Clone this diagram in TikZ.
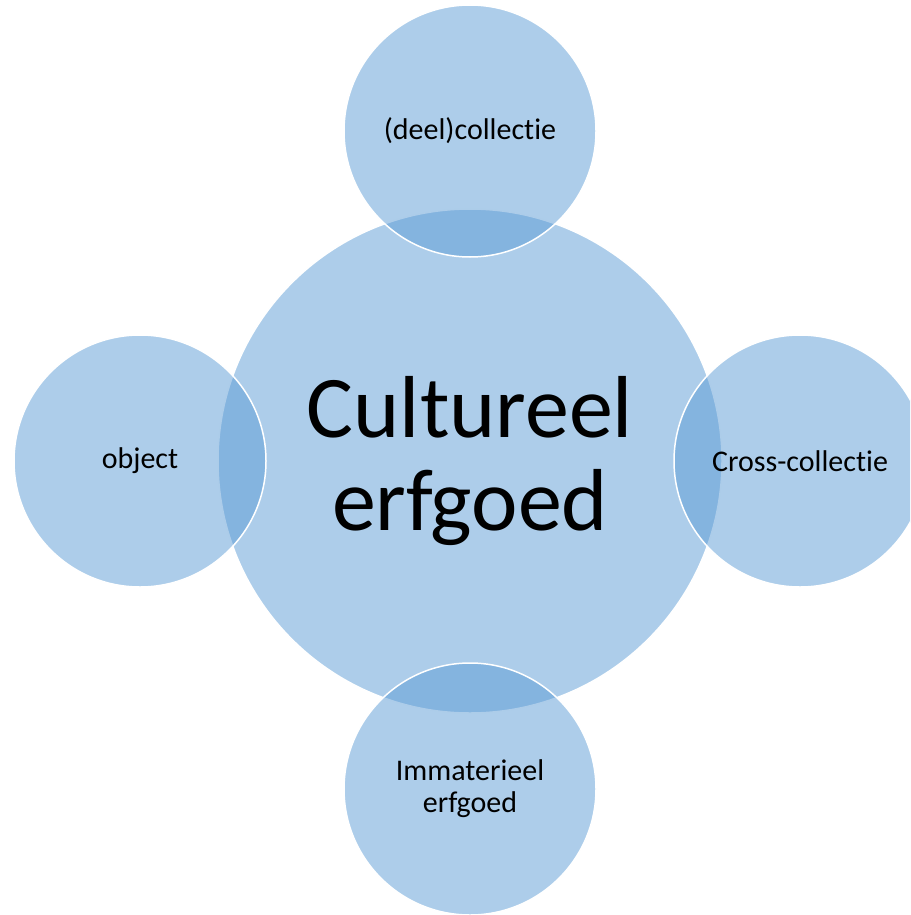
\documentclass[tikz,border=0pt]{standalone}
\usepackage{fontspec}
\setmainfont{Carlito}[Ligatures=NoCommon]
\usepackage{tikz}
\usetikzlibrary{positioning}

\definecolor{accentblue}{HTML}{5B9BD5}

\begin{document}
\begin{tikzpicture}[
    x=1pt, y=-1pt,
    hub/.style={circle, fill=accentblue, fill opacity=0.5, text opacity=1, draw=white, line width=1.5pt, minimum size=504pt, inner sep=0pt, align=center, font=\fontsize{88}{93}\selectfont},
    sat/.style={circle, fill=accentblue, fill opacity=0.5, text opacity=1, draw=white, line width=1.5pt, minimum size=252pt, inner sep=0pt, align=center, font=\fontsize{30}{32}\selectfont}
]
    \useasboundingbox (0,0) rectangle (910,915);
    \clip (0,0) rectangle (910,915);

    \node[hub] (erfgoed) at (470,461) {Cultureel\\erfgoed};

    \node[sat] (collectie) at (470,131) {(deel)collectie};
    \node[sat] (object) at (140,461) {object};
    \node[sat] (cross) at (800,461) {Cross-collectie};
    \node[sat] (immaterieel) at (470,789) {Immaterieel\\erfgoed};
\end{tikzpicture}
\end{document}
